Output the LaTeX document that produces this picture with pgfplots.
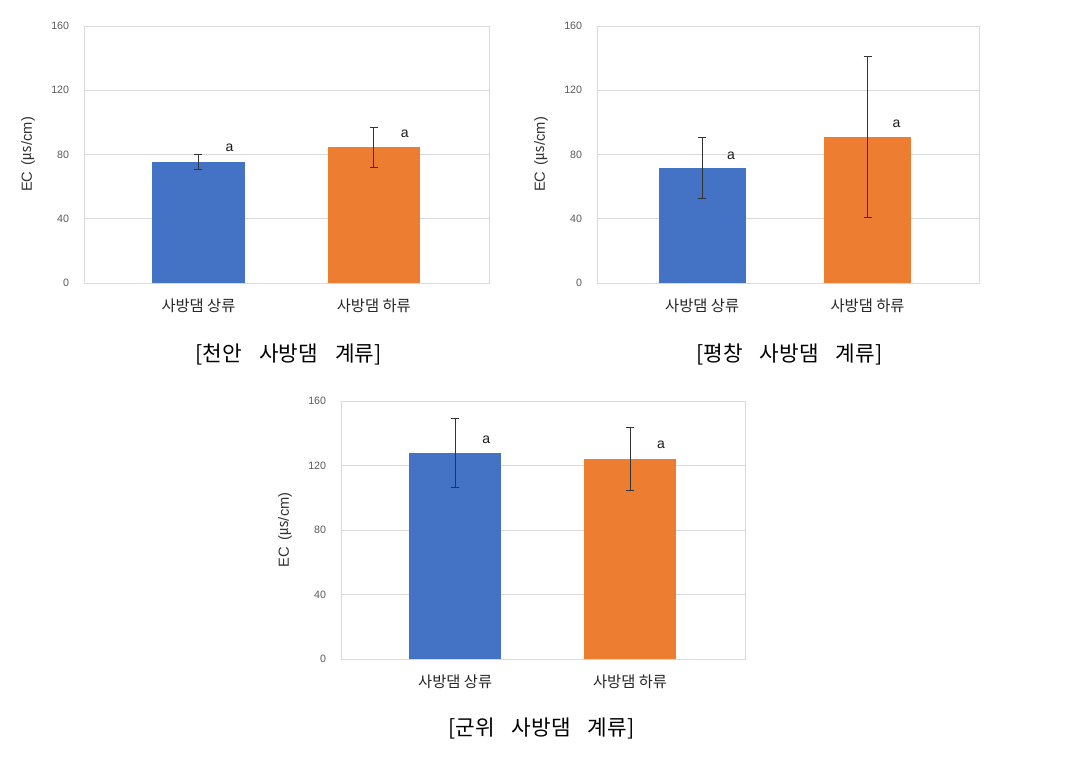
\documentclass[border=0pt]{standalone}
\usepackage{pgfplots}
\pgfplotsset{compat=1.18}
\usepackage{fontspec}
\setmainfont{Liberation Sans}
\newfontfamily\kr{Noto Sans CJK KR}
\definecolor{cblue}{HTML}{4472C4}
\definecolor{corange}{HTML}{ED7D31}
\definecolor{cgrid}{HTML}{D9D9D9}
\definecolor{ctick}{HTML}{595959}
\pgfplotsset{
  ecchart/.style={
    scale only axis,
    anchor=south west,
    height=192.75pt,
    xmin=-0.653, xmax=1.657,
    ymin=0, ymax=160,
    ytick={0,40,80,120,160},
    xtick={0,1},
    xticklabels={{\kr 사방댐 상류},{\kr 사방댐 하류}},
    major tick length=0pt,
    tick style={draw=none},
    ymajorgrids,
    grid style={cgrid, line width=0.6pt},
    axis line style={cgrid, line width=0.6pt},
    /pgf/number format/assume math mode=true,
    yticklabel style={font=\fontsize{8}{9}\selectfont, text=ctick, anchor=east, inner sep=0pt, xshift=-11pt},
    xticklabel style={font=\fontsize{11.5}{13}\selectfont, text=black!85, yshift=-8pt},
    ylabel={EC\, ({\kr ㎲}/cm)},
    every axis y label/.style={at={(axis description cs:0,0.5)}, xshift=-42pt, rotate=90, anchor=center, font=\fontsize{11}{13}\selectfont, text=black!80},
    bar width=0.525,
    error bars/error bar style={line width=0.5pt, black!80},
    error bars/error mark options={line width=0.5pt, black!80, mark size=3pt, rotate=90},
  },
  bars/.style={ybar, bar shift=0pt, draw=none, fill=#1, error bars/.cd, y dir=both, y explicit},
}
\newcommand{\alab}[2]{\node[font=\fontsize{10.5}{12}\selectfont, text=black!90] at (axis cs:#1) {#2};}
\begin{document}
\begin{tikzpicture}
\path[use as bounding box] (0,0) rectangle (805.5pt,568.5pt);
% Chart 1
\begin{axis}[ecchart, at={(63pt,356.25pt)}, width=303.75pt]
\addplot[bars=cblue] coordinates {(0,75.5) +- (0,4.5)};
\addplot[bars=corange] coordinates {(1,84.5) +- (0,12.5)};
\alab{0.177,84.2}{a}
\alab{1.177,93.0}{a}
\end{axis}
% Chart 2
\begin{axis}[ecchart, at={(447.75pt,356.25pt)}, width=286.5pt, xmin=-0.636, xmax=1.674]
\addplot[bars=cblue] coordinates {(0,71.5) +- (0,19)};
\addplot[bars=corange] coordinates {(1,91) +- (0,50)};
\alab{0.175,79.5}{a}
\alab{1.175,99.2}{a}
\end{axis}
% Chart 3
\begin{axis}[ecchart, at={(255.75pt,74.25pt)}, width=303pt, height=193.5pt]
\addplot[bars=cblue] coordinates {(0,127.7) +- (0,21.3)};
\addplot[bars=corange] coordinates {(1,124.2) +- (0,19.7)};
\alab{0.177,136.2}{a}
\alab{1.177,132.6}{a}
\end{axis}
\node[font=\kr\fontsize{16}{19}\selectfont] at (216.4pt,303pt) {[천안\hspace{0.8em}사방댐\hspace{0.8em}계류]};
\node[font=\kr\fontsize{16}{19}\selectfont] at (592pt,303pt) {[평창\hspace{0.8em}사방댐\hspace{0.8em}계류]};
\node[font=\kr\fontsize{16}{19}\selectfont] at (406pt,22.1pt) {[군위\hspace{0.8em}사방댐\hspace{0.8em}계류]};
\end{tikzpicture}
\end{document}
